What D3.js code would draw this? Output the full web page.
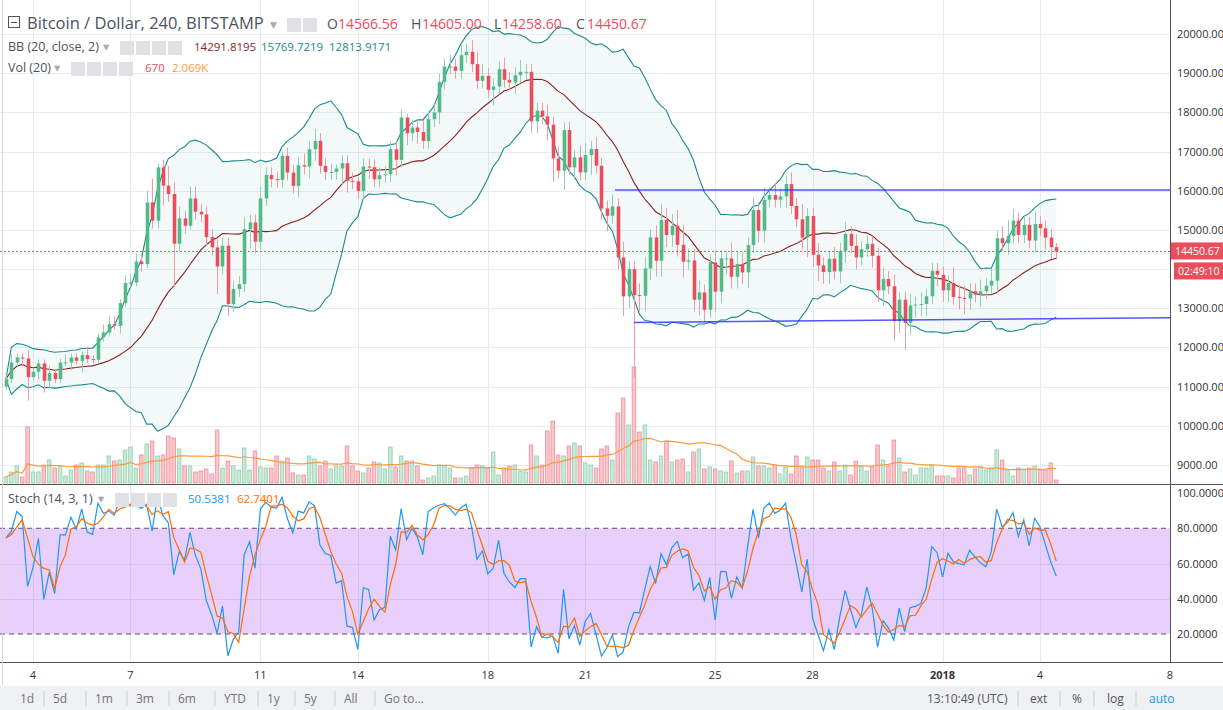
<!DOCTYPE html>
<html>
<head>
<meta charset="utf-8">
<script src="https://cdn.jsdelivr.net/npm/d3@7"></script>
<style>
  body { margin: 0; background: #fff; font-family: "Open Sans", "DejaVu Sans", sans-serif; }
  svg text { font-family: "Open Sans", "DejaVu Sans", sans-serif; }
</style>
</head>
<body>
<svg id="chart" width="1223" height="710"></svg>
<script>
// closes of the 4h candles, Dec 3 04:00 .. Jan 4 12:00
const closes = [
  11192,11617,11745,11720,11243,11379,11592,11149,11345,11192,11617,11617,11745,11660,11804,11702,11685,12256,12383,12596,
  12553,13132,13643,13660,14196,14128,15702,15234,16596,16128,15915,14647,15294,15106,15804,15464,15396,14817,14553,14068,
  14596,13107,13490,13617,15021,15191,14698,15804,16400,
  16294,16277,16890,16464,16124,16651,16617,17060,17272,16634,16481,16481,16566,16702,16251,16240,15996,16617,16600,16294,
  16396,16420,17060,16787,17868,17468,17613,17500,17272,17826,18000,18779,19170,19170,19060,19460,19545,19230,18805,18932,
  18575,18660,19102,18830,18762,18950,19034,19034,17770,
  18043,17898,17685,16826,16511,17549,16596,16851,16468,16911,17064,16638,15549,15362,15600,14298,13302,14000,13336,13320,
  14017,14809,14213,15251,14868,15106,14621,14187,14221,13217,13404,12962,14170,13422,14272,14272,13804,14128,13915,14613,
  15507,14979,15770,15889,15770,15855,16170,15610,
  15271,14805,15356,14365,14094,13924,14263,13941,14466,14898,14593,14297,14509,14644,14339,13458,13746,13560,12670,13221,
  12628,13069,13094,13110,13306,13958,13856,13458,13645,13289,13264,13250,13433,13348,13433,13577,13704,14788,14661,14847,
  15237,14873,15127,14729,15152,15042,14805,14560,14450.67
];
const firstOpen = 11000;
// upper / lower wick length beyond the body, in $100
const wickUp = [
  1,2,1,1,2,1,1,1,2,1, 1,2,1,1,1,2,1,1,2,2, 2,1,2,2,2,2,3,6,1,2, 5,3,3,2,3,3,2,2,2,2,
  2,2,2,2,3,2,2,3,2,2, 2,1,2,2,2,3,2,3,2,2, 2,1,2,2,2,1,2,2,2,2, 2,2,2,2,1,2,2,3,2,2,
  2,2,3,2,3,2,3,3,3,2, 2,2,3,2,2,3,2,2,2,2, 3,2,3,2,2,2,3,3,2,3, 2,2,3,2,4,2,2,3,3,2,
  3,4,3,3,4,5,3,3,3,2, 2,3,2,2,4,3,3,2,3,2, 3,2,3,2,2,3,2,4,2,2, 3,2,2,3,2,3,2,3,2,2,
  2,2,3,2,3,2,2,3,2,3, 2,2,2,2,2,4,3,3,2,2, 3,2,3,2,3,4,3,2,2,2, 3,2,2,2,1
];
const wickDn = [
  1,1,1,2,6,1,2,3,2,1, 1,1,2,1,3,1,1,1,1,1, 1,2,1,1,1,2,1,2,2,5, 2,11,2,2,1,2,2,2,2,7,
  2,3,2,2,2,5,3,2,2,2, 2,2,2,2,3,2,3,3,2,2, 2,2,4,3,2,2,2,3,2,2, 2,2,4,2,3,2,3,2,2,2,
  3,2,2,2,2,2,2,2,2,2, 4,2,2,2,3,2,2,3,3,2, 4,6,2,5,2,3,2,2,5,2, 3,4,2,3,5,3,21,4,4,3,
  4,4,3,3,3,4,2,3,4,4, 2,5,3,4,3,3,3,4,2,3, 3,2,2,2,3,2,2,3,5,3, 4,3,3,2,3,3,2,3,2,2,
  3,3,4,2,5,3,7,3,3,3, 3,2,3,3,3,2,3,4,3,2, 3,2,2,3,2,3,2,2,2,2, 3,2,3,3,2
];
// volume (hundreds BTC)
const volumes = [
  6,11,17,6,56,11,11,18,23,15,17,7,13,18,20,12,11,18,18,27,22,23,33,36,15,28,39,42,27,28,47,45,34,17,17,11,12,14,9,53,
  15,22,17,13,35,13,32,16,15,
  15,27,22,25,10,8,8,27,24,17,22,14,17,17,37,17,12,10,15,21,20,14,36,16,27,22,22,17,3,5,7,18,17,15,5,5,7,15,18,17,
  15,31,8,15,17,18,12,11,38,
  27,18,52,62,28,27,37,40,37,20,18,15,34,37,23,70,85,58,116,51,58,23,21,27,42,21,23,24,11,31,34,14,16,14,12,11,22,10,12,12,
  26,17,17,15,18,9,16,9,
  27,17,26,23,23,15,12,21,12,18,8,22,17,12,16,38,23,17,43,25,11,14,8,15,15,18,7,7,7,5,15,15,8,14,16,13,15,33,23,13,
  7,15,14,15,17,13,13,20,3
];
const priceTicks = d3.range(9000, 20001, 1000);
const stochTicks = [20, 40, 60, 80, 100];
const dayTicks = [[2017,11,4,"4"],[2017,11,7,"7"],[2017,11,11,"11"],[2017,11,14,"14"],[2017,11,18,"18"],
  [2017,11,21,"21"],[2017,11,25,"25"],[2017,11,28,"28"],[2018,0,1,"2018"],[2018,0,4,"4"],[2018,0,8,"8"]];
const resistance = [[new Date(Date.UTC(2017,11,21,22)), 16020], [new Date(Date.UTC(2018,0,8,12)), 16020]];
const support = [[new Date(Date.UTC(2017,11,22,12)), 12640], [new Date(Date.UTC(2018,0,8,12)), 12760]];

const W = 1223, axisX = 1170, mainBot = 484, stBot = 662;
const GREEN = "#53b987", RED = "#eb4d5c";
const svg = d3.select("#chart");

const N = closes.length;
const H4 = 4 * 3600 * 1000;
const lastT = Date.UTC(2018, 0, 4, 12);
const candles = closes.map((c, i) => {
  const o = i === 0 ? firstOpen : closes[i - 1];
  return {
    t: new Date(lastT - (N - 1 - i) * H4),
    o, c,
    h: Math.max(o, c) + (wickUp[i] || 1) * 100,
    l: Math.min(o, c) - (wickDn[i] || 1) * 100,
    v: volumes[i] || 5
  };
});

const x = d3.scaleUtc().domain([new Date(Date.UTC(2017,11,4)), new Date(Date.UTC(2018,0,4))]).range([33, 1040]);
const y = d3.scaleLinear().domain([9000, 20000]).range([465, 34]);
const yv = d3.scaleLinear().domain([0, 120]).range([mainBot - 1, mainBot - 121]);
const ys = d3.scaleLinear().domain([20, 100]).range([634, 493]);
const barW = (x(new Date(Date.UTC(2017,11,4,4))) - x(new Date(Date.UTC(2017,11,4)))) * 0.66;

// indicators
const bb = candles.map((d, i) => {
  const w = closes.slice(Math.max(0, i - 19), i + 1);
  const m = d3.mean(w), s = d3.deviation(w) || 0;
  return { t: d.t, m, u: m + 2 * s, l: m - 2 * s };
});
const volMa = candles.map((d, i) => ({ t: d.t, v: d3.mean(volumes.slice(Math.max(0, i - 19), i + 1)) }));
const kLine = candles.map((d, i) => {
  const w = candles.slice(Math.max(0, i - 13), i + 1);
  const hh = d3.max(w, e => e.h), ll = d3.min(w, e => e.l);
  return { t: d.t, k: hh === ll ? 50 : (d.c - ll) / (hh - ll) * 100 };
});
const dLine = kLine.map((d, i) => ({ t: d.t, k: d3.mean(kLine.slice(Math.max(0, i - 2), i + 1), e => e.k) }));

// grid
const grid = svg.append("g").attr("stroke", "#e6edf2").attr("stroke-width", 1);
dayTicks.forEach(([a, b, c]) => {
  const xx = Math.round(x(new Date(Date.UTC(a, b, c)))) + 0.5;
  grid.append("line").attr("x1", xx).attr("x2", xx).attr("y1", 0).attr("y2", stBot);
});
priceTicks.forEach(p => grid.append("line").attr("x1", 0).attr("x2", axisX)
  .attr("y1", Math.round(y(p)) + 0.5).attr("y2", Math.round(y(p)) + 0.5));
[40, 60].forEach(p => grid.append("line").attr("x1", 0).attr("x2", axisX)
  .attr("y1", Math.round(ys(p)) + 0.5).attr("y2", Math.round(ys(p)) + 0.5));

// volume
svg.append("g").selectAll("rect").data(candles).join("rect")
  .attr("x", d => x(d.t) - barW / 2).attr("width", barW)
  .attr("y", d => yv(d.v)).attr("height", d => yv(0) - yv(d.v))
  .attr("fill", d => d.c >= d.o ? "#c9e9d8" : "#f9c6cb")
  .attr("stroke", d => d.c >= d.o ? "#93d0b1" : "#ef8f99").attr("stroke-width", 0.8);
svg.append("path").datum(volMa).attr("fill", "none").attr("stroke", "#ff9a3c").attr("stroke-width", 1.2)
  .attr("d", d3.line().x(d => x(d.t)).y(d => yv(d.v)));

// bollinger
svg.append("path").datum(bb).attr("fill", "#1b8a8a").attr("fill-opacity", 0.05)
  .attr("d", d3.area().x(d => x(d.t)).y0(d => y(d.l)).y1(d => y(d.u)));
[["u", "#1b8a8a"], ["l", "#1b8a8a"], ["m", "#8a1f1f"]].forEach(([k, col]) =>
  svg.append("path").datum(bb).attr("fill", "none").attr("stroke", col).attr("stroke-width", 1.1)
    .attr("d", d3.line().x(d => x(d.t)).y(d => y(d[k]))));

// candles
const cg = svg.append("g");
cg.selectAll("line").data(candles).join("line")
  .attr("x1", d => Math.round(x(d.t)) + 0.5).attr("x2", d => Math.round(x(d.t)) + 0.5)
  .attr("y1", d => y(d.h)).attr("y2", d => y(d.l))
  .attr("stroke", d => d.c >= d.o ? "#93d0b1" : "#f19aa3");
cg.selectAll("rect").data(candles).join("rect")
  .attr("x", d => Math.round(x(d.t)) + 0.5 - barW / 2).attr("width", barW)
  .attr("y", d => y(Math.max(d.o, d.c))).attr("height", d => Math.max(1, Math.abs(y(d.o) - y(d.c))))
  .attr("fill", d => d.c >= d.o ? GREEN : RED);

// trend lines
[resistance, support].forEach(l => svg.append("path").datum(l).attr("fill", "none")
  .attr("stroke", "#2a2aff").attr("stroke-opacity", 0.8).attr("stroke-width", 1.5)
  .attr("d", d3.line().x(d => Math.min(axisX, x(d[0]))).y(d => y(d[1]))));

// last price line
const last = closes[N - 1];
svg.append("line").attr("x1", 0).attr("x2", axisX).attr("y1", y(last)).attr("y2", y(last))
  .attr("stroke", RED).attr("stroke-dasharray", "2,2");

// stoch pane
svg.append("rect").attr("x", 0).attr("width", axisX).attr("y", ys(80)).attr("height", ys(20) - ys(80))
  .attr("fill", "#9c27f0").attr("fill-opacity", 0.22);
[80, 20].forEach(p => svg.append("line").attr("x1", 0).attr("x2", axisX).attr("y1", ys(p)).attr("y2", ys(p))
  .attr("stroke", "#555").attr("stroke-dasharray", "5,4"));
svg.append("path").datum(kLine).attr("fill", "none").attr("stroke", "#2196f3").attr("stroke-width", 1.2)
  .attr("d", d3.line().x(d => x(d.t)).y(d => ys(d.k)));
svg.append("path").datum(dLine).attr("fill", "none").attr("stroke", "#ff6d00").attr("stroke-width", 1.2)
  .attr("d", d3.line().x(d => x(d.t)).y(d => ys(d.k)));

// frames
svg.append("line").attr("x1", 0).attr("x2", W).attr("y1", mainBot + 0.5).attr("y2", mainBot + 0.5).attr("stroke", "#555");
svg.append("line").attr("x1", 0).attr("x2", W).attr("y1", stBot + 0.5).attr("y2", stBot + 0.5).attr("stroke", "#555");
svg.append("line").attr("x1", axisX + 0.5).attr("x2", axisX + 0.5).attr("y1", 0).attr("y2", stBot).attr("stroke", "#555");
svg.append("line").attr("x1", 2.5).attr("x2", 2.5).attr("y1", 0).attr("y2", 685).attr("stroke", "#d5d9de");

// axes labels
const ax = svg.append("g").attr("font-size", 11).attr("fill", "#333");
priceTicks.forEach(p => ax.append("text").attr("x", 1177).attr("y", y(p) + 4).text(d3.format(".2f")(p)));
stochTicks.forEach(p => ax.append("text").attr("x", 1177).attr("y", ys(p) + 4).text(d3.format(".4f")(p)));
dayTicks.forEach(([a, b, c, lab]) => ax.append("text").attr("x", x(new Date(Date.UTC(a, b, c))))
  .attr("y", 679).attr("text-anchor", "middle").attr("font-weight", lab === "2018" ? "bold" : null).text(lab));
svg.append("rect").attr("x", 1171).attr("y", y(last) - 9).attr("width", 52).attr("height", 17).attr("fill", RED);
svg.append("text").attr("x", 1175).attr("y", y(last) + 4).attr("font-size", 10.5).attr("fill", "#fff").text("14450.67");
svg.append("rect").attr("x", 1174).attr("y", y(last) + 11).attr("width", 49).attr("height", 17).attr("fill", RED);
svg.append("text").attr("x", 1178).attr("y", y(last) + 24).attr("font-size", 10.5).attr("fill", "#fff").text("02:49:10");

// header legends
function icons(x0, n, yy) {
  for (let i = 0; i < n; i++) svg.append("rect").attr("x", x0 + i * 16).attr("y", yy - 11).attr("width", 14).attr("height", 14)
    .attr("fill", "#dfe1e5");
}
svg.append("rect").attr("x", 8.5).attr("y", 16.5).attr("width", 11).attr("height", 11).attr("fill", "none").attr("stroke", "#555");
svg.append("line").attr("x1", 11).attr("x2", 17).attr("y1", 22.5).attr("y2", 22.5).attr("stroke", "#555");
svg.append("text").attr("x", 27).attr("y", 29).attr("font-size", 16.5).attr("fill", "#4c525e").text("Bitcoin / Dollar, 240, BITSTAMP");
svg.append("text").attr("x", 270).attr("y", 28).attr("font-size", 9).attr("fill", "#aaa").text("▼");
icons(287, 2, 29);
[["O", "14566.56", 327], ["H", "14605.00", 411], ["L", "14258.60", 494], ["C", "14450.67", 576]].forEach(([k, v, xx]) => {
  svg.append("text").attr("x", xx).attr("y", 29).attr("font-size", 14).attr("fill", "#4c525e").text(k);
  svg.append("text").attr("x", xx + (k === "L" ? 8 : 11)).attr("y", 29).attr("font-size", 14).attr("fill", RED).text(v);
});
const sm = (t, xx, yy, col, fs) => svg.append("text").attr("x", xx).attr("y", yy).attr("font-size", fs || 12.5).attr("fill", col).text(t);
sm("BB (20, close, 2)", 8, 51, "#4c525e"); sm("▾", 103, 51, "#aaa"); icons(120, 4, 52);
sm("14291.8195", 194, 51, "#8a1f1f", 11.5); sm("15769.7219", 261, 51, "#1b8a8a", 11.5); sm("12813.9171", 329, 51, "#1b8a8a", 11.5);
sm("Vol (20)", 8, 72, "#4c525e"); sm("▾", 54, 72, "#aaa"); icons(71, 4, 73);
sm("670", 145, 72, RED, 11.5); sm("2.069K", 172, 72, "#ff9a3c", 11.5);
sm("Stoch (14, 3, 1)", 8, 503, "#4c525e"); sm("▾", 98, 503, "#aaa"); icons(115, 4, 504);
sm("50.5381", 188, 503, "#2196f3", 11.5); sm("62.7401", 237, 503, "#ff6d00", 11.5);

// bottom toolbar
svg.append("rect").attr("x", 0).attr("y", 686).attr("width", W).attr("height", 24).attr("fill", "#eef0f3");
const tb = [["1d", 20], ["5d", 53], ["1m", 95], ["3m", 136], ["6m", 178], ["YTD", 224], ["1y", 267], ["5y", 304], ["All", 344], ["Go to...", 384]];
tb.forEach(([t, xx], i) => {
  svg.append("text").attr("x", xx).attr("y", 703).attr("font-size", 12).attr("fill", "#757575").text(t);
  if (i < tb.length - 1) svg.append("line").attr("x1", tb[i + 1][1] - 9).attr("x2", tb[i + 1][1] - 9)
    .attr("y1", 691).attr("y2", 706).attr("stroke", "#ccc");
});
[["13:10:49 (UTC)", 927, "#555"], ["ext", 1030, "#555"], ["%", 1072, "#555"], ["log", 1107, "#555"], ["auto", 1149, "#2196f3"]]
  .forEach(([t, xx, col]) => svg.append("text").attr("x", xx).attr("y", 703).attr("font-size", 12).attr("fill", col).text(t));
[1018, 1060, 1094, 1136].forEach(xx => svg.append("line").attr("x1", xx).attr("x2", xx).attr("y1", 691).attr("y2", 706).attr("stroke", "#ccc"));
</script>
</body>
</html>
